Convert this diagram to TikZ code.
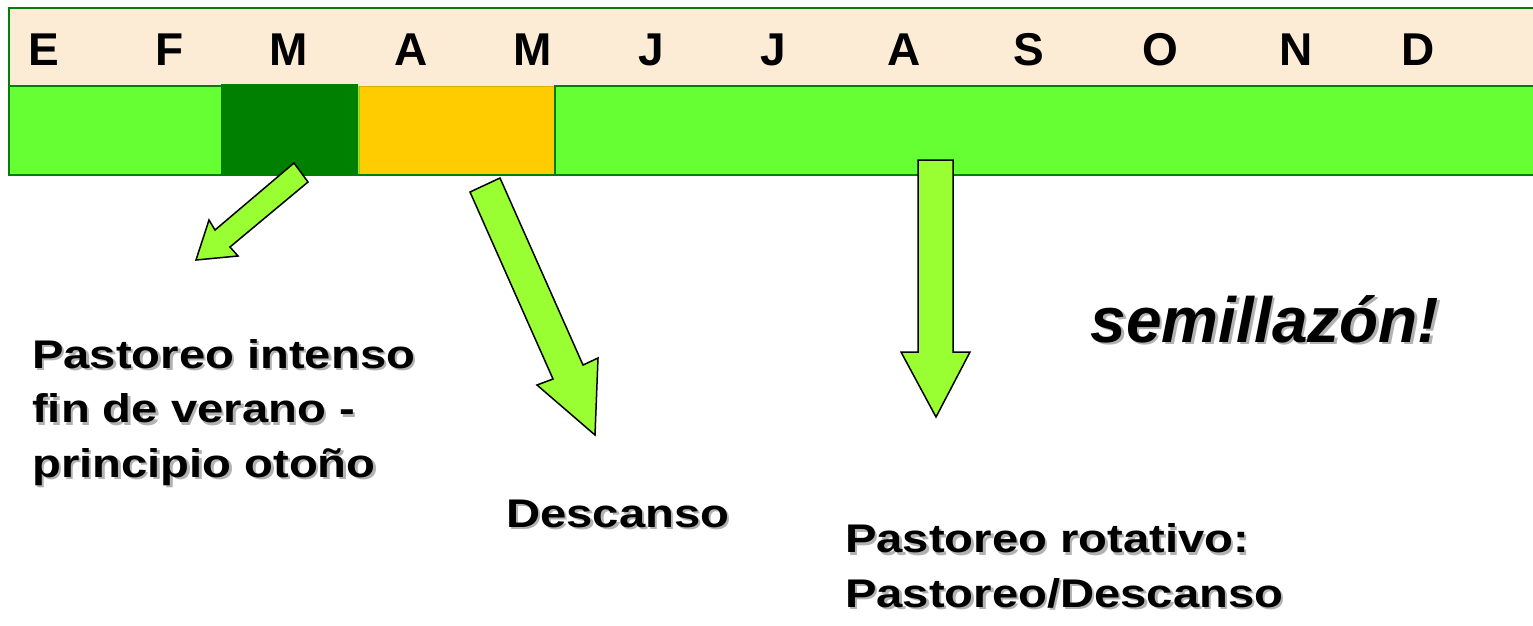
\documentclass[tikz,border=0pt]{standalone}
\usepackage{fontspec}
\setmainfont{Liberation Sans}
\newfontfamily\widefont[FakeStretch=1.18]{Liberation Sans}
\usepackage{xcolor}

\definecolor{barGreen}{RGB}{102,255,51}
\definecolor{darkGreen}{RGB}{0,128,0}
\definecolor{amber}{RGB}{255,204,0}
\definecolor{cream}{RGB}{252,236,214}
\definecolor{arrowGreen}{RGB}{153,255,51}

% grey drop shadow behind a line of text
\newcommand{\sombra}[1]{\rlap{\kern2.5pt\raisebox{-2.5pt}{\color{black!30}#1}}#1}

\begin{document}
\begin{tikzpicture}[x=1pt,y=-1pt,
    monthtxt/.style={font=\fontsize{46}{46}\selectfont\bfseries,anchor=base,inner sep=0pt},
    notetxt/.style={font=\widefont\fontsize{40}{54.5}\selectfont\bfseries,align=left,inner sep=0pt},
    blockarrow/.style={fill=arrowGreen,draw=black,line width=1.5pt,line join=miter}]
      \useasboundingbox (0,0) rectangle (1533,625);
      \fill[white] (0,0) rectangle (1533,625);
      % month band
      \fill[cream] (9,8) rectangle (1540,86);
      \foreach \x/\m [count=\i] in {44/E,170/F,289/M,411/A,533/M,651/J,773/J,904/A,1029/S,1160/O,1296/N,1418/D}
        \node[monthtxt] (mes\i) at (\x,65) {\m};
      % calendar bar
      \fill[barGreen] (9,86) rectangle (1540,175);
      \fill[darkGreen] (221,84) rectangle (358,176);
      \filldraw[fill=amber,draw=amber!85!black,line width=1pt] (359,86) rectangle (554,175);
      \draw[darkGreen,line width=2pt] (1540,8) -- (9,8) -- (9,175) -- (1540,175);
      \draw[darkGreen,line width=1.5pt] (9,86) -- (221,86) (554,86) -- (1540,86) (555,86) -- (555,175);
      % arrows
      \draw[blockarrow] (294,163) -- (215,230) -- (209,220) -- (196,260) -- (238,256) -- (230,247) -- (308,182) -- cycle;
      \draw[blockarrow] (470,192) -- (553,379) -- (537,385) -- (595,435) -- (598,358) -- (583,365) -- (500,178) -- cycle;
      \draw[blockarrow] (918,160) -- (918,352) -- (901,352) -- (936,417) -- (970,352) -- (953,352) -- (953,160) -- cycle;
      % texts (base = last line)
      \node[notetxt,anchor=base west] (intenso) at (32,477)
        {\sombra{Pastoreo intenso}\\ \sombra{fin de verano -}\\ \sombra{principio otoño}};
      \node[notetxt,anchor=base west] (descanso) at (506,527) {\sombra{Descanso}};
      \node[notetxt,anchor=base west] (rotativo) at (845,607)
        {\sombra{Pastoreo rotativo:}\\ \sombra{Pastoreo/Descanso}};
      \node[font=\fontsize{64}{64}\selectfont\bfseries\itshape,anchor=base,inner sep=0pt] (semilla) at (1265,342) {\sombra{semillazón!}};
\end{tikzpicture}
\end{document}
